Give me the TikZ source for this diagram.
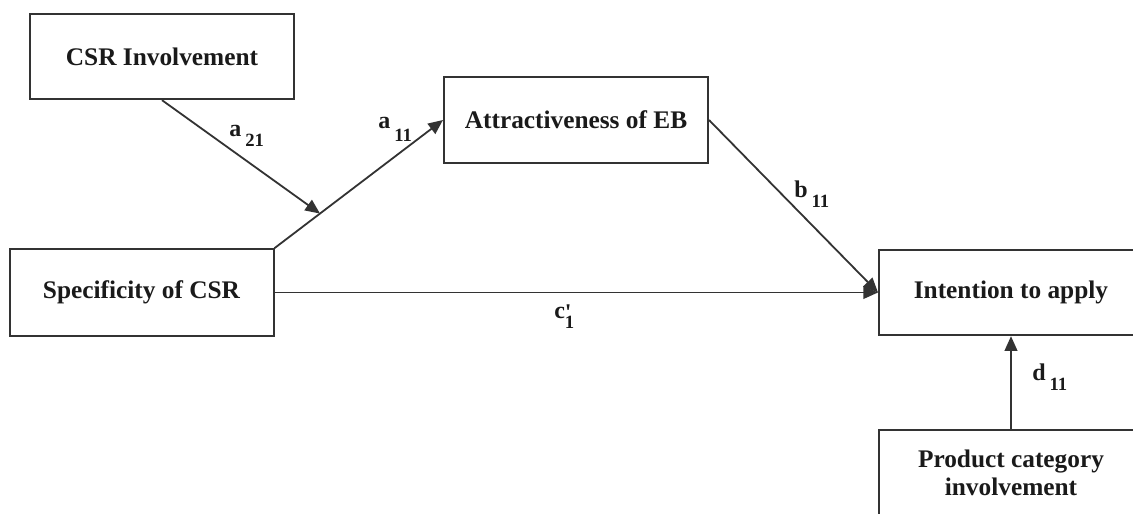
\documentclass[tikz,border=0pt]{standalone}
\usepackage{fontspec}
\setmainfont{Liberation Serif}
\usetikzlibrary{arrows.meta,calc}
\definecolor{ln}{HTML}{333333}
\definecolor{tx}{HTML}{1A1A1A}
\newcommand\lowsub[2][8pt]{\raisebox{-#1}{\fontsize{14}{15}\selectfont #2}}
\begin{document}
\begin{tikzpicture}[x=0.75pt,y=-0.75pt,
  box/.style={draw=ln,line width=1.5pt,fill=white,minimum width=198pt,minimum height=64pt,
    align=center,font=\bfseries\fontsize{19}{21}\selectfont,text=tx,inner sep=0pt},
  arr/.style={draw=ln,line width=1.35pt,-{Triangle[length=11pt,width=9.5pt]}},
  lbl/.style={anchor=base west,inner sep=0pt,font=\bfseries\fontsize{18}{20}\selectfont,text=tx}]
\useasboundingbox (0,0) rectangle (1133,514);
\clip (0,0) rectangle (1133,514);
\fill[white] (0,0) rectangle (1133,514);
\node[box] (csr) at (162,56.5) {CSR Involvement};
\node[box,minimum height=65pt] (attr) at (576,120) {Attractiveness of EB};
\node[box,minimum height=65pt] (spec) at (141.5,292.5) {Specificity of CSR};
\node[box] (int) at (1011,292.5) {Intention to apply};
\node[box] (prod) at (1011,472.5) {Product category\\involvement};
\draw[arr] (spec.north east) -- (attr.west);
\coordinate (m) at ($(spec.north east)!0.27!(attr.west)$);
\draw[arr] (csr.south) -- (m);
\draw[arr] (attr.east) -- (int.west);
\draw[arr] (spec.east) -- (int.west);
\draw[arr] (prod.north) -- (int.south);
\node[lbl] (la21) at (229,136) {a\hspace{3pt}\lowsub{21}};
\node[lbl] (la11) at (378,128) {a\hspace{3pt}\lowsub[10pt]{11}};
\node[lbl] (lb11) at (794,197) {b\hspace{3pt}\lowsub{11}};
\node[lbl] (ld11) at (1032,380) {d\hspace{3pt}\lowsub{11}};
\node[lbl] (lc1) at (554,318) {c\rlap{\raisebox{-2pt}{\textquotesingle}}\lowsub{1}};
\end{tikzpicture}
\end{document}
